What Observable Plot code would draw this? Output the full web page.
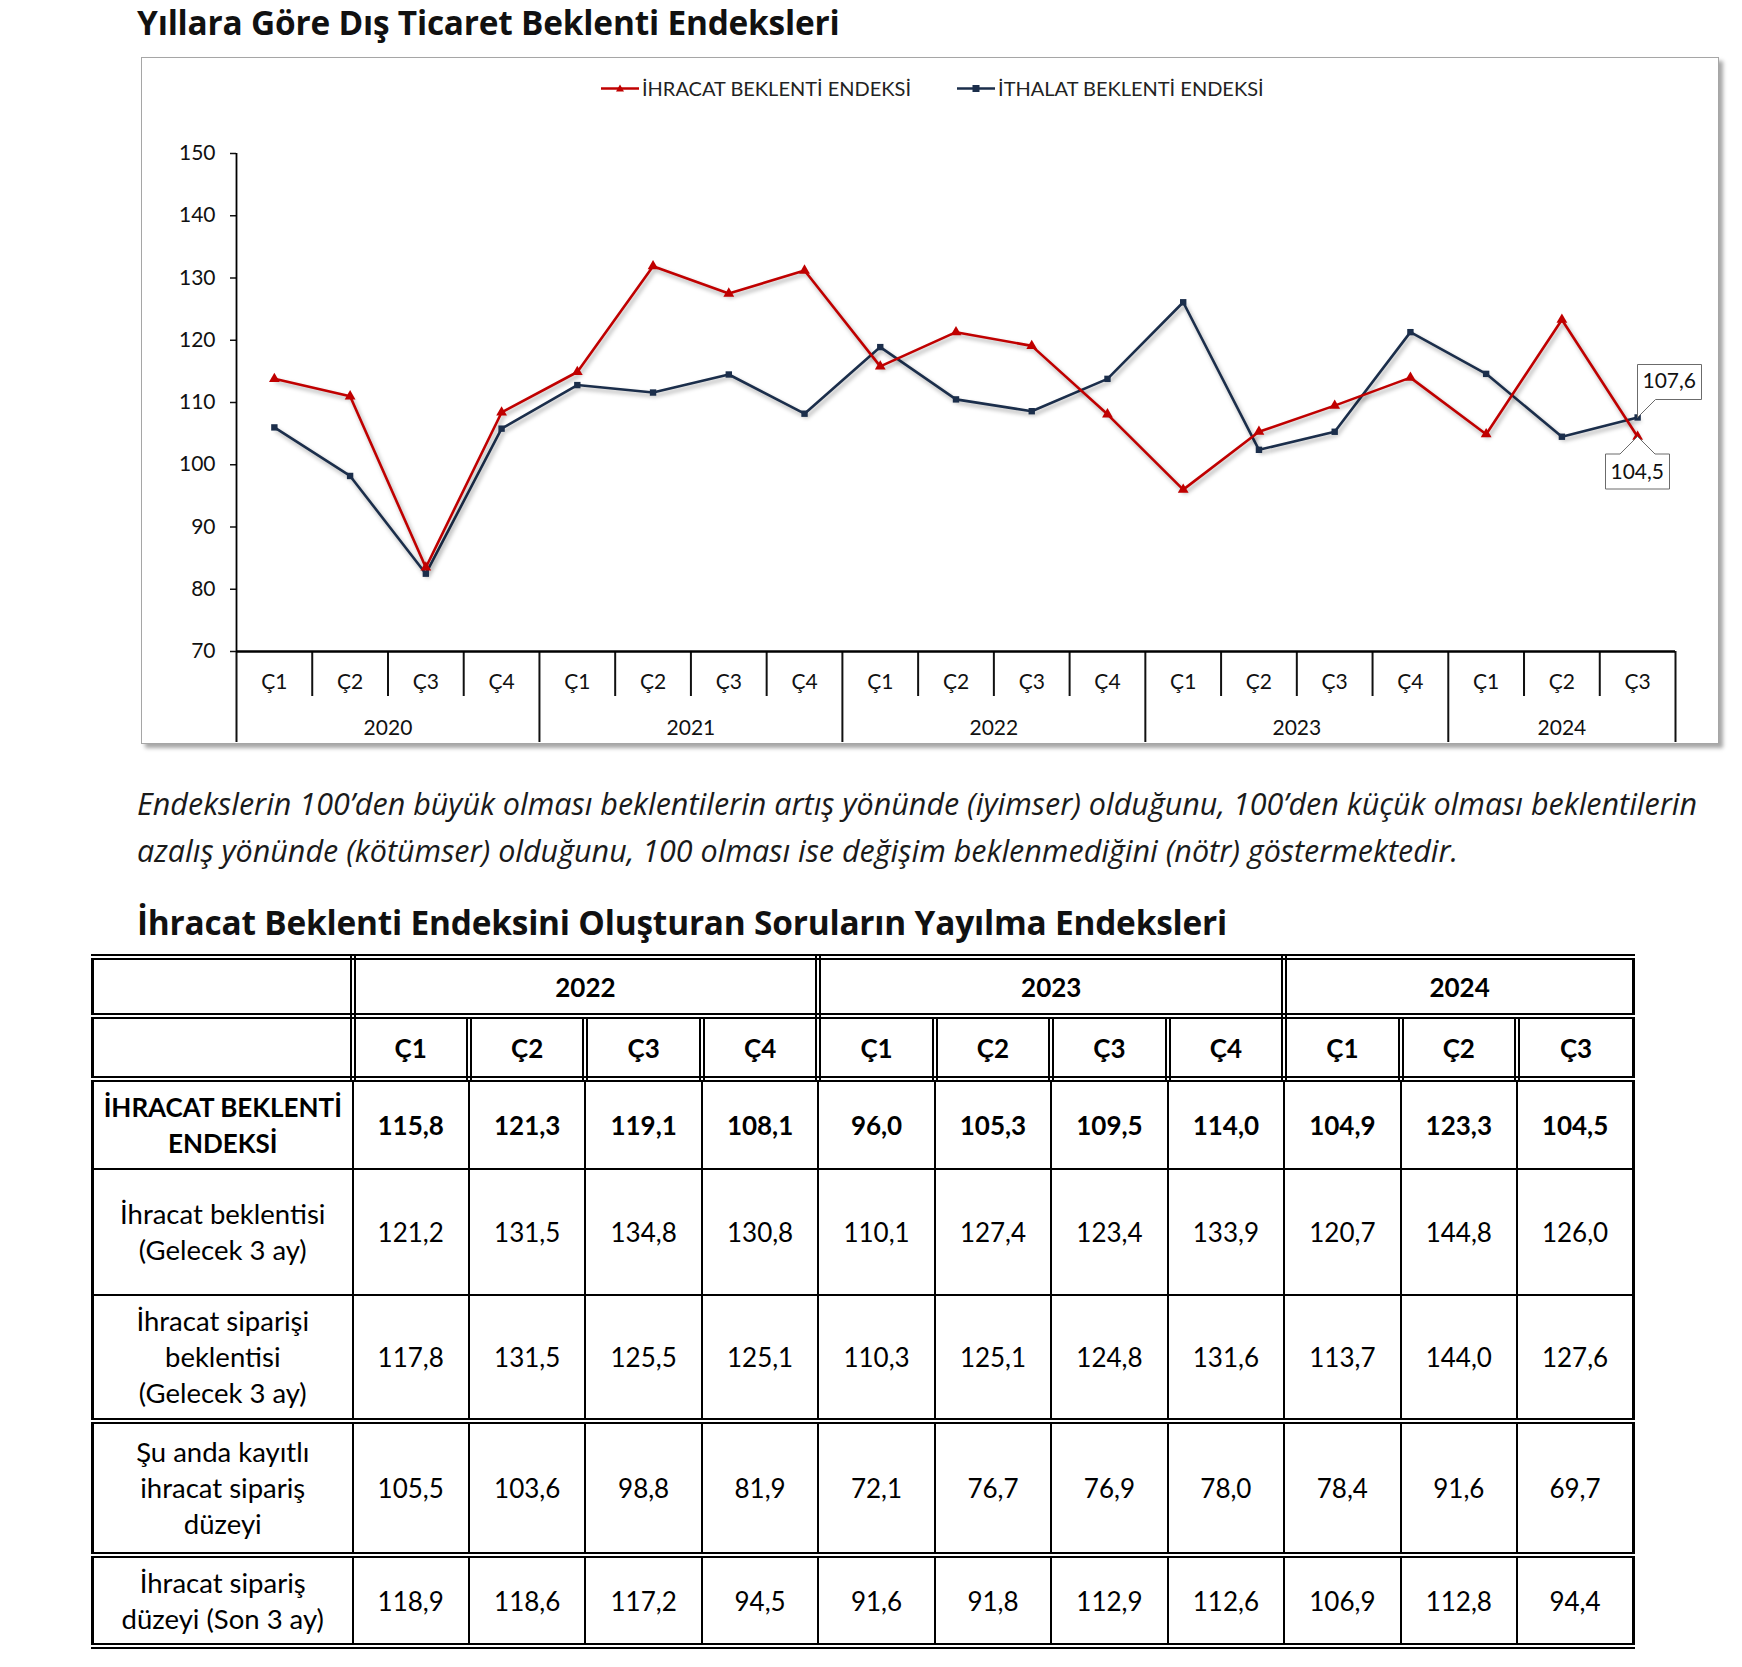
<!DOCTYPE html>
<html lang="tr">
<head>
<meta charset="utf-8">
<script src="https://cdn.jsdelivr.net/npm/d3@7"></script>
<script src="https://cdn.jsdelivr.net/npm/@observablehq/plot@0.6"></script>
<style>
  html, body { margin: 0; padding: 0; background: #fff; }
  body { width: 1742px; height: 1667px; position: relative; font-family: Lato, "Open Sans", sans-serif; color: #000; overflow: hidden; }
  .title { position: absolute; left: 137px; font-family: "Open Sans", Lato, sans-serif; font-weight: 700; font-size: 33.4px; line-height: 44px; white-space: nowrap; color: #111; letter-spacing: -0.2px; }
  #chartbox { position: absolute; left: 141px; top: 57px; width: 1576px; height: 685px; border: 1px solid #a6a6a6; box-shadow: 4px 4px 4px rgba(0,0,0,0.35); background: #fff; }
  #chartbox svg { position: absolute; left: 0; top: 0; }
  #legend { position: absolute; left: 459px; top: 18px; display: flex; align-items: center; font-size: 20px; color: #222; white-space: nowrap; }
  #legend .item { display: flex; align-items: center; margin-right: 46px; }
  #legend svg { position: static; margin-right: 3px; }
  #note { position: absolute; left: 137px; top: 780px; font-family: "Open Sans", Lato, sans-serif; font-style: italic; font-size: 30.5px; line-height: 47px; color: #1a1a1a; white-space: nowrap; }
  table { position: absolute; left: 91px; top: 954px; width: 1544px; border-collapse: collapse; table-layout: fixed; font-size: 26px; }
  td, th { text-align: center; vertical-align: middle; padding: 0 4px; line-height: 36px; }
  th { font-weight: 700; border: 6px double #000; }
  td { border: 2.5px solid #000; font-weight: 400; }
  td.first { font-size: 27.5px; }
  tr.bold td { font-weight: 700; }
  tr.dbl td { border-top: 6px double #000; }
  tr.last td { border-bottom: 6px double #000; }
  td.first, th.first { border-left: 3px solid #000; }
  td.lastc, th.lastc { border-right: 3px solid #000; }
</style>
</head>
<body>
<div class="title" style="top:0px">Yıllara Göre Dış Ticaret Beklenti Endeksleri</div>
<div id="chartbox">
  <div id="legend"></div>
</div>
<div id="note">Endekslerin 100’den büyük olması beklentilerin artış yönünde (iyimser) olduğunu, 100’den küçük olması beklentilerin<br>azalış yönünde (kötümser) olduğunu, 100 olması ise değişim beklenmediğini (nötr) göstermektedir.</div>
<div class="title" style="top:900px">İhracat Beklenti Endeksini Oluşturan Soruların Yayılma Endeksleri</div>
<div id="tablewrap"></div>
<script>
// ---------- Chart data ----------
const years = ["2020", "2021", "2022", "2023", "2024"];
const quartersPerYear = [4, 4, 4, 4, 3];
const quarterNames = ["Ç1", "Ç2", "Ç3", "Ç4"];
const ihracat = [113.8, 111.0, 83.5, 108.4, 114.9, 131.9, 127.5, 131.2, 115.8, 121.3, 119.1, 108.1, 96.0, 105.3, 109.5, 114.0, 104.9, 123.3, 104.5];
const ithalat = [106.0, 98.2, 82.5, 105.8, 112.8, 111.6, 114.5, 108.2, 118.9, 110.5, 108.6, 113.8, 126.1, 102.4, 105.3, 121.3, 114.6, 104.5, 107.6];
const yTicks = [70, 80, 90, 100, 110, 120, 130, 140, 150];
const seriesNames = ["İHRACAT BEKLENTİ ENDEKSİ", "İTHALAT BEKLENTİ ENDEKSİ"];
const red = "#C00000", navy = "#1B2E4B";

// ---------- Table data ----------
const tableYears = ["2022", "2023", "2024"];
const tableQuarterCounts = [4, 4, 3];
const rowLabels = ["İHRACAT BEKLENTİ<br>ENDEKSİ", "İhracat beklentisi<br>(Gelecek 3 ay)", "İhracat siparişi<br>beklentisi<br>(Gelecek 3 ay)", "Şu anda kayıtlı<br>ihracat sipariş<br>düzeyi", "İhracat sipariş<br>düzeyi (Son 3 ay)"];
const rowEndeks = [115.8, 121.3, 119.1, 108.1, 96.0, 105.3, 109.5, 114.0, 104.9, 123.3, 104.5];
const rowBeklenti = [121.2, 131.5, 134.8, 130.8, 110.1, 127.4, 123.4, 133.9, 120.7, 144.8, 126.0];
const rowSiparisBeklenti = [117.8, 131.5, 125.5, 125.1, 110.3, 125.1, 124.8, 131.6, 113.7, 144.0, 127.6];
const rowKayitli = [105.5, 103.6, 98.8, 81.9, 72.1, 76.7, 76.9, 78.0, 78.4, 91.6, 69.7];
const rowSonUcAy = [118.9, 118.6, 117.2, 94.5, 91.6, 91.8, 112.9, 112.6, 106.9, 112.8, 94.4];

const fmt = v => v.toFixed(1).replace(".", ",");

// build period table
const periods = [];
years.forEach((yr, yi) => {
  for (let q = 0; q < quartersPerYear[yi]; q++) periods.push({year: yr, quarter: quarterNames[q]});
});
const data = periods.map((p, i) => ({...p, pos: i + 0.5, ihracat: ihracat[i], ithalat: ithalat[i]}));
const n = data.length;

// boundaries
const yearBounds = [0];
quartersPerYear.reduce((acc, c) => { acc += c; yearBounds.push(acc); return acc; }, 0);
const yearCenters = years.map((y, i) => (yearBounds[i] + yearBounds[i + 1]) / 2);
const innerBounds = d3.range(1, n).filter(b => !yearBounds.includes(b));
const last = data[n - 1];

const chart = Plot.plot({
  width: 1576,
  height: 685,
  marginLeft: 94,
  marginRight: 43,
  marginTop: 95,
  marginBottom: 92,
  style: {fontFamily: "Lato, 'Open Sans', sans-serif", fontSize: "21px", color: "#111", overflow: "visible"},
  x: {domain: [0, n], axis: null},
  y: {domain: [70, 150], axis: null},
  marks: [
    Plot.axisY({ticks: yTicks, tickSize: 6, tickPadding: 15, fontSize: 21, tickFormat: d => String(d), label: null, strokeWidth: 1.5}),
    Plot.ruleX([0], {stroke: "#000", strokeWidth: 1.8}),
    Plot.axisX({ticks: innerBounds, tickSize: 45, fill: "none", label: null, strokeWidth: 2}),
    Plot.axisX({ticks: yearBounds, tickSize: 91, fill: "none", label: null, strokeWidth: 2}),
    Plot.axisX({ticks: data.map(d => d.pos), tickSize: 0, tickPadding: 23, fontSize: 21, tickFormat: (d, i) => data[i].quarter, label: null}),
    Plot.axisX({ticks: yearCenters, tickSize: 0, tickPadding: 69, fontSize: 21, tickFormat: (d, i) => years[i], label: null}),
    Plot.ruleY([70], {stroke: "#000", strokeWidth: 2.5}),
    Plot.line(data, {x: "pos", y: "ithalat", stroke: navy, strokeWidth: 2.6, className: "shadowed"}),
    Plot.line(data, {x: "pos", y: "ihracat", stroke: red, strokeWidth: 2.6, className: "shadowed"}),
    Plot.dot(data, {x: "pos", y: "ithalat", symbol: "square", r: 3.6, fill: navy}),
    Plot.dot(data, {x: "pos", y: "ihracat", symbol: "triangle", r: 4, fill: red}),
    Plot.tip([last], {x: "pos", y: "ithalat", title: d => fmt(d.ithalat), anchor: "bottom-left", pointerSize: 18, fill: "white", stroke: "#6b6b6b", fontSize: 21, textPadding: 5, pathFilter: "none"}),
    Plot.tip([last], {x: "pos", y: "ihracat", title: d => fmt(d.ihracat), anchor: "top", pointerSize: 35, fill: "white", stroke: "#6b6b6b", fontSize: 21, textPadding: 5, pathFilter: "none"})
  ]
});
document.getElementById("chartbox").appendChild(chart);
const st = document.createElement("style");
st.textContent = `.shadowed { filter: drop-shadow(2px 3px 2px rgba(0,0,0,0.35)); }`;
document.head.appendChild(st);

// legend
const legend = document.getElementById("legend");
[[seriesNames[0], red, "tri"], [seriesNames[1], navy, "sq"]].forEach(([name, col, sym]) => {
  const item = document.createElement("div");
  item.className = "item";
  const marker = sym === "tri"
    ? `<polygon points="19,1.5 23,8.5 15,8.5" fill="${col}"/>`
    : `<rect x="15.5" y="2" width="7" height="7" fill="${col}"/>`;
  item.innerHTML = `<svg width="38" height="11"><line x1="0" y1="5.5" x2="38" y2="5.5" stroke="${col}" stroke-width="2.6"/>${marker}</svg><span>${name}</span>`;
  legend.appendChild(item);
});

// table
const rows = [rowEndeks, rowBeklenti, rowSiparisBeklenti, rowKayitli, rowSonUcAy];
const rowHeights = [90, 126, 126, 134, 91];
const rowClasses = ["bold", "", "", "dbl", "dbl last"];
let html = `<table><colgroup><col style="width:260px">` + d3.range(11).map(() => `<col>`).join("") + `</colgroup>`;
html += `<tr style="height:59px"><th class="first"></th>` + tableYears.map((y, i) => `<th colspan="${tableQuarterCounts[i]}" ${i === tableYears.length - 1 ? 'class="lastc"' : ""}>${y}</th>`).join("") + `</tr>`;
const qs = [];
tableQuarterCounts.forEach(c => { for (let q = 0; q < c; q++) qs.push(quarterNames[q]); });
html += `<tr style="height:63px"><th class="first"></th>` + qs.map((q, i) => `<th ${i === qs.length - 1 ? 'class="lastc"' : ""}>${q}</th>`).join("") + `</tr>`;
rows.forEach((r, ri) => {
  html += `<tr class="${rowClasses[ri]}" style="height:${rowHeights[ri]}px"><td class="first">${rowLabels[ri]}</td>` + r.map((v, i) => `<td ${i === r.length - 1 ? 'class="lastc"' : ""}>${fmt(v)}</td>`).join("") + `</tr>`;
});
html += `</table>`;
document.getElementById("tablewrap").innerHTML = html;
document.querySelector("tr.bold td.first").style.fontSize = "26px";
</script>
</body>
</html>
